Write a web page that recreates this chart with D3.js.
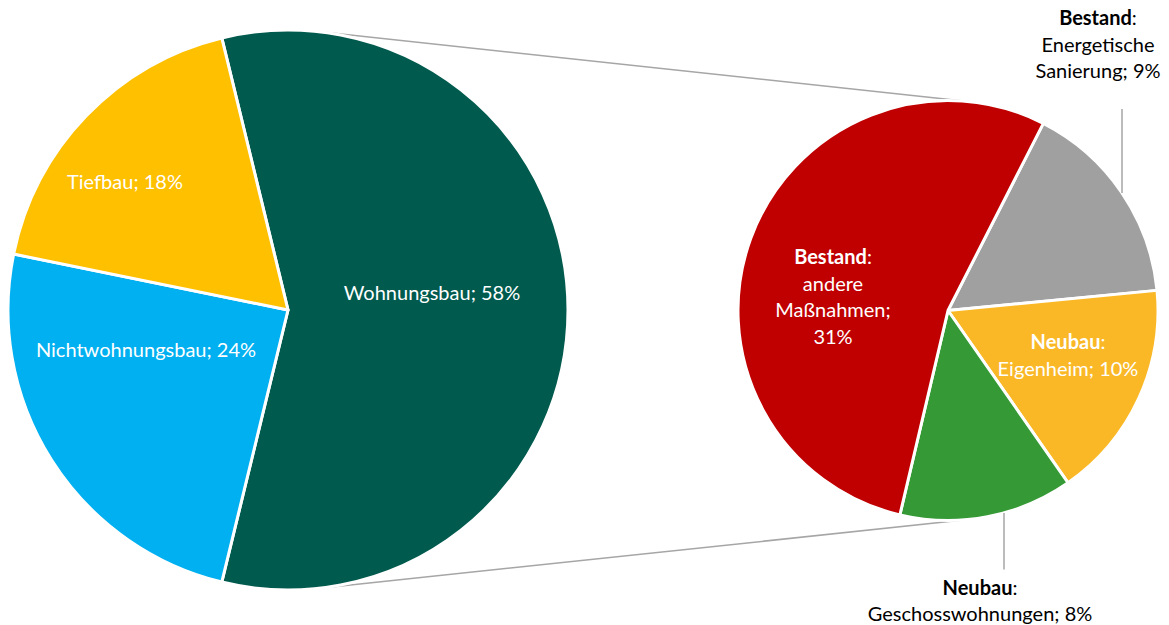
<!DOCTYPE html>
<html>
<head>
<meta charset="utf-8">
<script src="https://cdn.jsdelivr.net/npm/d3@7/dist/d3.min.js"></script>
<style>
  body { margin: 0; background: #fff; }
  svg text { font-family: Lato, "Open Sans", sans-serif; font-size: 20px; }
</style>
</head>
<body>
<svg id="chart" width="1169" height="625"></svg>
<script>
// main pie
var mainNames = ["Wohnungsbau", "Nichtwohnungsbau", "Tiefbau"];
var mainValues = [57.6, 24.4, 18.0];
var mainLabels = ["58%", "24%", "18%"];
var mainColors = ["#005a4e", "#00b0f0", "#ffc000"];

// sub pie (split of Wohnungsbau)
var subHeads = ["Bestand", "Neubau", "Neubau", "Bestand"];
var subNames = [["Energetische", "Sanierung; 9%"], ["Eigenheim; 10%"], ["Geschosswohnungen; 8%"], ["andere", "Maßnahmen;", "31%"]];
var subValues = [9.2, 9.7, 7.7, 31.0];
var subColors = ["#a0a0a0", "#fab826", "#359a35", "#c00000"];

var svg = d3.select("#chart");
var lc = [288, 310], lr = 280;   // left pie
var rc = [948, 310.5], rr = 210; // right pie
var lineH = 26.5;

// left pie: the split slice is centred on the right side
var share = mainValues[0] / d3.sum(mainValues);
var leftStart = Math.PI / 2 - share * Math.PI;
var pieL = d3.pie().sort(null).startAngle(leftStart).endAngle(leftStart + 2 * Math.PI);
var pieR = d3.pie().sort(null).startAngle(27 * Math.PI / 180).endAngle(27 * Math.PI / 180 + 2 * Math.PI);

var arcL = d3.arc().innerRadius(0).outerRadius(lr);
var arcR = d3.arc().innerRadius(0).outerRadius(rr);

//connector lines = outer tangents of both circles
var dx = rc[0] - lc[0], dy = rc[1] - lc[1];
var D = Math.sqrt(dx * dx + dy * dy);
var ux = dx / D, uy = dy / D;
var k = (lr - rr) / D, h = Math.sqrt(1 - k * k);
[-1, 1].forEach(function(s) {
  var nx = ux * k + s * uy * h, ny = uy * k - s * ux * h;
  svg.append("line")
    .attr("x1", lc[0] + lr * nx).attr("y1", lc[1] + lr * ny)
    .attr("x2", rc[0] + rr * nx).attr("y2", rc[1] + rr * ny)
    .attr("stroke", "#a6a6a6").attr("stroke-width", 1.5);
});

var gL = svg.append("g").attr("transform", "translate(" + lc + ")");
gL.selectAll("path")
  .data(pieL(mainValues))
  .enter().append("path")
  .attr("d", arcL)
  .attr("fill", function(d, i) { return mainColors[i]; })
  .attr("stroke", "#fff").attr("stroke-width", 3).attr("stroke-linejoin", "round");

var gR = svg.append("g").attr("transform", "translate(" + rc + ")");
gR.selectAll("path")
  .data(pieR(subValues))
  .enter().append("path")
  .attr("d", arcR)
  .attr("fill", function(d, i) { return subColors[i]; })
  .attr("stroke", "#fff").attr("stroke-width", 3).attr("stroke-linejoin", "round");

// label anchors relative to pie centres
var mainLabelPos = [[144, -17], [-142, 40], [-163, -128]];
gL.selectAll("text")
  .data(mainNames)
  .enter().append("text")
  .attr("x", function(d, i) { return mainLabelPos[i][0]; })
  .attr("y", function(d, i) { return mainLabelPos[i][1]; })
  .attr("dy", "0.35em")
  .attr("text-anchor", "middle")
  .attr("fill", "#fff")
  .text(function(d, i) { return d + "; " + mainLabels[i]; });

// sub labels: [x, y of first line], inside or outside
var subLabelPos = [[150, -292.5], [120, 31.5], [32, 277], [-115, -53.5]];
var subInside = [false, true, false, true];

subHeads.forEach(function(head, i) {
  var col = subInside[i] ? "#fff" : "#000";
  var t = gR.append("text")
    .attr("text-anchor", "middle")
    .attr("fill", col);
  var first = t.append("tspan")
    .attr("x", subLabelPos[i][0]).attr("y", subLabelPos[i][1]).attr("dy", "0.35em");
  first.append("tspan").attr("font-weight", "bold").text(head);
  first.append("tspan").text(":");
  subNames[i].forEach(function(line, j) {
    t.append("tspan")
      .attr("x", subLabelPos[i][0])
      .attr("y", subLabelPos[i][1] + (j + 1) * lineH)
      .attr("dy", "0.35em")
      .text(line);
  });
  //leader line for outside labels, down/up to the circle edge
  if (!subInside[i]) {
    var lx = subLabelPos[i][0] + 24;
    var edge = Math.sqrt(rr * rr - lx * lx);
    var nLines = subNames[i].length + 1;
    var ly, ey;
    if (subLabelPos[i][1] < 0) {
      ly = subLabelPos[i][1] + (nLines - 1) * lineH + 38;
      ey = -edge;
    } else {
      ly = subLabelPos[i][1] - 18;
      ey = edge;
    }
    gR.append("line")
      .attr("x1", lx).attr("y1", ly)
      .attr("x2", lx).attr("y2", ey)
      .attr("stroke", "#a6a6a6").attr("stroke-width", 1.5);
  }
});
</script>
</body>
</html>
